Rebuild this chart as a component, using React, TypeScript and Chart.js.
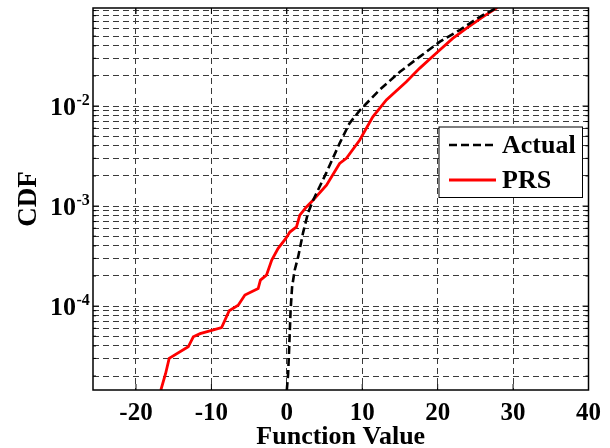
import React, { useEffect, useRef } from 'react';
import { Chart, registerables } from 'chart.js';

Chart.register(...registerables);

// ---- data ----
const seriesNames = ['Actual', 'PRS'];

const actualX = [0.0, 0.17, 0.3, 0.5, 0.7, 1.05, 1.5, 2.15, 2.8, 3.5, 5.2, 7.0, 8.3, 9.7, 12.3, 15.0, 17.6, 20.3, 22.9, 25.6, 27.9];
const actualY = [1.45e-5, 2.1e-5, 3.6e-5, 9.1e-5, 1.56e-4, 2.3e-4, 3.1e-4, 5.4e-4, 8.5e-4, 1.15e-3, 2.12e-3, 4.24e-3, 6.7e-3, 9.1e-3, 1.45e-2, 2.2e-2, 3.1e-2, 4.4e-2, 5.75e-2, 7.8e-2, 0.0965];

const prsX = [-16.7, -16.07, -15.6, -13.07, -12.4, -11.5, -8.65, -7.64, -6.45, -5.56, -3.8, -3.5, -2.7, -2.0, -1.15, -0.13, 0.4, 1.28, 1.72, 2.6, 3.5, 5.26, 7.0, 7.9, 9.67, 11.4, 13.2, 15.85, 17.6, 19.8, 22.0, 23.8, 26.0, 27.9];
const prsY = [1.45e-5, 2.12e-5, 3.0e-5, 3.92e-5, 4.93e-5, 5.3e-5, 6.1e-5, 9.0e-5, 1.02e-4, 1.29e-4, 1.5e-4, 1.82e-4, 2.04e-4, 2.88e-4, 3.78e-4, 4.75e-4, 5.5e-4, 6.2e-4, 8.1e-4, 9.8e-4, 1.15e-3, 1.62e-3, 2.67e-3, 3.0e-3, 4.57e-3, 7.8e-3, 1.15e-2, 1.75e-2, 2.38e-2, 3.37e-2, 4.75e-2, 5.98e-2, 7.8e-2, 0.0965];

const xTickValues = [-20, -10, 0, 10, 20, 30, 40];
const yMajorTicks = [1e-4, 1e-3, 1e-2];
const yTickBase = '10';
const yTickExponents = ['-4', '-3', '-2'];
const yDecades = [-5, -4, -3, -2];
const xTitle = 'Function Value';
const yTitle = 'CDF';

const xMin = -25.7;
const xMax = 40;
const yMin = 1.45e-5;
const yMax = 0.0955;

const FONT = '"Liberation Serif", "Times New Roman", serif';

const yGridValues: number[] = [];
yDecades.forEach((e) => {
  for (let m = 1; m <= 9; m++) {
    const v = m * Math.pow(10, e);
    if (v >= yMin && v <= yMax) yGridValues.push(v);
  }
});

const framePlugin = {
  id: 'frame',
  afterDraw(chart: any) {
    const { ctx, chartArea: a, scales } = chart;
    const xs = scales.x;
    const ys = scales.y;
    ctx.save();
    ctx.strokeStyle = '#000';
    ctx.lineWidth = 1;
    ctx.setLineDash([]);
    // inner tick marks
    ctx.beginPath();
    xTickValues.forEach((v) => {
      const px = xs.getPixelForValue(v);
      ctx.moveTo(px, a.bottom);
      ctx.lineTo(px, a.bottom - 6);
      ctx.moveTo(px, a.top);
      ctx.lineTo(px, a.top + 6);
    });
    yGridValues.forEach((v) => {
      const py = ys.getPixelForValue(v);
      const len = yMajorTicks.some((m) => Math.abs(m - v) / m < 1e-6) ? 6 : 3;
      ctx.moveTo(a.left, py);
      ctx.lineTo(a.left + len, py);
      ctx.moveTo(a.right, py);
      ctx.lineTo(a.right - len, py);
    });
    ctx.stroke();
    ctx.lineWidth = 1.5;
    ctx.strokeRect(a.left, a.top, a.right - a.left, a.bottom - a.top);

    // y tick labels with superscript exponents
    ctx.fillStyle = '#000';
    yMajorTicks.forEach((v, i) => {
      const py = ys.getPixelForValue(v);
      ctx.font = `bold 26px ${FONT}`;
      ctx.textAlign = 'right';
      ctx.textBaseline = 'alphabetic';
      ctx.fillText(yTickBase, a.left - 17, py + 9);
      ctx.font = `bold 16px ${FONT}`;
      ctx.textAlign = 'left';
      ctx.fillText(yTickExponents[i], a.left - 16.5, py - 1);
    });

    // legend box
    const lx = a.right - 149.5;
    const ly = a.top + 119;
    const lw = 143.5;
    const lh = 70.5;
    ctx.fillStyle = '#fff';
    ctx.fillRect(lx, ly, lw, lh);
    ctx.strokeStyle = '#000';
    ctx.lineWidth = 1;
    ctx.strokeRect(lx, ly, lw, lh);
    const ds = chart.data.datasets;
    const rows = [ly + 18, ly + 53];
    ds.forEach((d: any, i: number) => {
      ctx.save();
      ctx.strokeStyle = d.borderColor;
      ctx.lineWidth = d.borderWidth;
      ctx.setLineDash(d.borderDash || []);
      ctx.beginPath();
      ctx.moveTo(lx + 10, rows[i]);
      ctx.lineTo(lx + 57, rows[i]);
      ctx.stroke();
      ctx.restore();
      ctx.fillStyle = '#000';
      ctx.font = `bold 26px ${FONT}`;
      ctx.textAlign = 'left';
      ctx.textBaseline = 'middle';
      ctx.fillText(d.label, lx + 63, rows[i] + 1);
    });
    ctx.restore();
  },
};

export default function App() {
  const ref = useRef<HTMLCanvasElement | null>(null);
  useEffect(() => {
    document.body.style.margin = '0';
    const canvas = ref.current;
    if (!canvas) return;
    const chart = new Chart(canvas, {
      type: 'line',
      data: {
        datasets: [
          {
            label: seriesNames[0],
            data: actualX.map((x, i) => ({ x, y: actualY[i] })),
            borderColor: '#000000',
            borderWidth: 2.6,
            borderDash: [8, 4],
            pointRadius: 0,
            fill: false,
            tension: 0,
          },
          {
            label: seriesNames[1],
            data: prsX.map((x, i) => ({ x, y: prsY[i] })),
            borderColor: '#ff0000',
            borderWidth: 2.8,
            pointRadius: 0,
            fill: false,
            tension: 0,
          },
        ],
      } as any,
      options: {
        animation: false,
        responsive: false,
        maintainAspectRatio: false,
        layout: { padding: { top: 8, right: 21, left: 0, bottom: 0 } },
        plugins: { legend: { display: false }, tooltip: { enabled: false } },
        scales: {
          x: {
            type: 'linear',
            min: xMin,
            max: xMax,
            afterBuildTicks: (s: any) => {
              s.ticks = xTickValues.map((v) => ({ value: v }));
            },
            afterFit: (s: any) => {
              s.height = 58;
            },
            grid: { color: '#3a3a3a', lineWidth: 1, drawTicks: false },
            border: { display: false, dash: [6, 4] },
            ticks: {
              color: '#000',
              font: { family: FONT, size: 25, weight: 'bold' },
              padding: 9,
              maxRotation: 0,
              autoSkip: false,
              callback: (v: any) => String(v),
            },
            title: {
              display: true,
              text: xTitle,
              color: '#000',
              font: { family: FONT, size: 26, weight: 'bold', lineHeight: 1 },
              padding: { top: 0, bottom: -2 },
            },
          },
          y: {
            type: 'logarithmic',
            min: yMin,
            max: yMax,
            afterBuildTicks: (s: any) => {
              s.ticks = yGridValues.map((v) => ({ value: v }));
            },
            afterFit: (s: any) => {
              s.width = 93;
            },
            grid: { color: '#3a3a3a', lineWidth: 1, drawTicks: false },
            border: { display: false, dash: [6, 4] },
            ticks: { display: false },
            title: {
              display: true,
              text: yTitle,
              color: '#000',
              font: { family: FONT, size: 27, weight: 'bold', lineHeight: 1 },
              padding: { top: 16, bottom: 0 },
            },
          },
        },
      } as any,
      plugins: [framePlugin],
    });
    return () => chart.destroy();
  }, []);
  return (
    <div style={{ width: 610, height: 448 }}>
      <canvas ref={ref} width={610} height={448} style={{ display: 'block' }} />
    </div>
  );
}
